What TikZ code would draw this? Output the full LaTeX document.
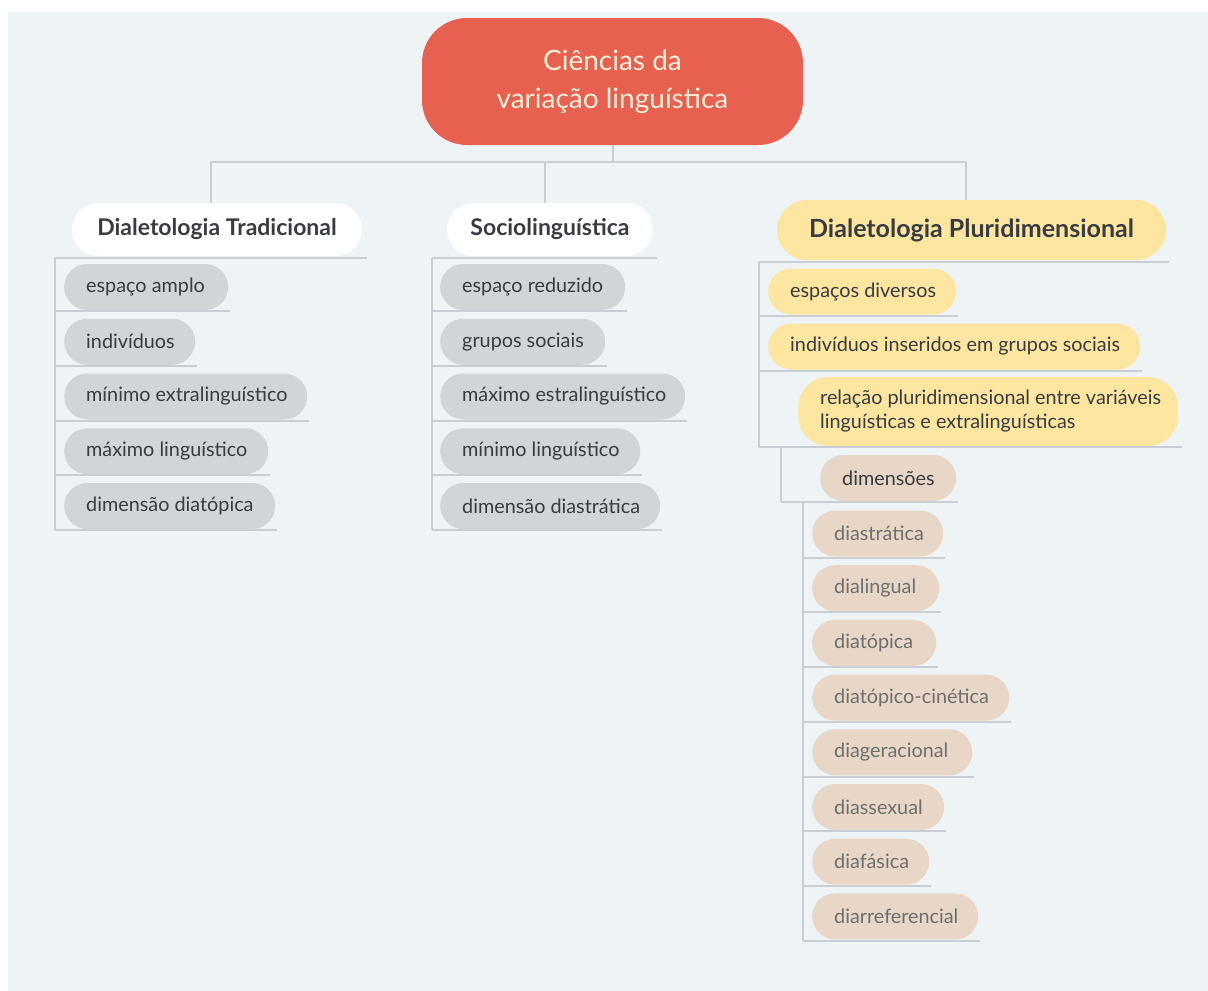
\documentclass[tikz,border=0pt]{standalone}
\usepackage{fontspec}
\setmainfont{Lato}
\definecolor{bgc}{HTML}{EEF3F6}
\definecolor{rootc}{HTML}{E8604F}
\definecolor{roottxt}{HTML}{FFF0D8}
\definecolor{yelc}{HTML}{FDE6A0}
\definecolor{greyc}{HTML}{D1D5D8}
\definecolor{tanc}{HTML}{E8D7C6}
\definecolor{lnc}{HTML}{C8CED3}
\definecolor{txtc}{HTML}{383C42}
\definecolor{dimtxt}{HTML}{6E6E6E}
\tikzset{
  ln/.style={draw=lnc, line width=2pt},
  pillbase/.style={rounded corners=23pt, inner xsep=22pt, inner ysep=0pt, minimum height=46pt, anchor=west, font=\fontsize{19.8}{23}\selectfont},
  greyp/.style={pillbase, fill=greyc, text=txtc},
  yelp/.style={pillbase, fill=yelc, text=txtc},
  tanp/.style={pillbase, fill=tanc, text=dimtxt},
  dimp/.style={pillbase, fill=tanc, text=txtc},
  lone/.style={inner sep=0pt, text=txtc, font=\fontsize{23}{27}\selectfont\bfseries},
  rootn/.style={fill=rootc, text=roottxt, rounded corners=45pt, align=center, inner sep=0pt, font=\fontsize{28}{38}\selectfont},
}
\newcommand\leaf[7]{%
  \pgfmathsetmacro\leaftw{#5-#3-44}%
  \node[#2] (#1) at (#3,#4) {\makebox[\leaftw pt][l]{#7}};
  \draw[ln] ([xshift=2pt,yshift=-1pt]#1.south east) -- ([yshift=-1pt]#1.south west -| #6);
}
\begin{document}
\begin{tikzpicture}[x=1pt,y=-1pt]
\useasboundingbox (0,0) rectangle (1208,991);
\fill[bgc] (8,12) rectangle (1208,991);

% root
\node[rootn, minimum width=381pt, minimum height=127pt] (root) at (612.5,81.5) {Ciências da\\variação linguística};

% level 1
\node[lone, fill=white, minimum width=290pt, minimum height=53pt, rounded corners=26pt] (dt) at (217,229.5) {Dialetologia Tradicional};
\node[lone, fill=white, minimum width=206pt, minimum height=53pt, rounded corners=26pt] (soc) at (550,229.5) {Sociolinguística};
\node[lone, fill=yelc, minimum width=389pt, minimum height=60pt, rounded corners=30pt, font=\fontsize{25}{29}\selectfont\bfseries] (dp) at (971.5,230) {Dialetologia Pluridimensional};

\draw[ln] (root.south) -- ++(0,17) coordinate (hub);
\draw[ln] ([xshift=-6pt]dt.north) |- (hub) -| ([xshift=-6pt]dp.north);
\draw[ln] ([xshift=-5pt]soc.north) -- ([xshift=-5pt]soc.north |- hub);

\draw[ln] ([xshift=5pt,yshift=-2pt]dt.south east) -- ([xshift=-17pt,yshift=-2pt]dt.south west) coordinate (dtv);
\draw[ln] ([xshift=4pt,yshift=-2pt]soc.south east) -- ([xshift=-15pt,yshift=-2pt]soc.south west) coordinate (socv);
\draw[ln] ([xshift=3pt,yshift=-2pt]dp.south east) -- ([xshift=-18pt,yshift=-2pt]dp.south west) coordinate (dpv);

% Dialetologia Tradicional
\leaf{dta}{greyp}{64}{287}{228}{dtv}{espaço amplo}
\leaf{dtb}{greyp}{64}{341.75}{195}{dtv}{indivíduos}
\leaf{dtc}{greyp}{64}{396.5}{307}{dtv}{mínimo extralinguístico}
\leaf{dtd}{greyp}{64}{451.25}{268}{dtv}{máximo linguístico}
\leaf{dte}{greyp}{64}{506}{275}{dtv}{dimensão diatópica}
\draw[ln] (dtv) -- ([yshift=-1pt]dte.south west -| dtv);

% Sociolinguistica
\leaf{sa}{greyp}{440}{287}{625}{socv}{espaço reduzido}
\leaf{sb}{greyp}{440}{341.75}{605}{socv}{grupos sociais}
\leaf{sc}{greyp}{440}{396.5}{685}{socv}{máximo estralinguístico}
\leaf{sd}{greyp}{440}{451.25}{640}{socv}{mínimo linguístico}
\leaf{se}{greyp}{440}{506}{660}{socv}{dimensão diastrática}
\draw[ln] (socv) -- ([yshift=-1pt]se.south west -| socv);

% Dialetologia Pluridimensional
\leaf{pa}{yelp}{768}{291.5}{956}{dpv}{espaços diversos}
\leaf{pb}{yelp}{768}{346.5}{1140}{dpv}{indivíduos inseridos em grupos sociais}
\node[yelp, minimum height=69pt, rounded corners=30pt, font=\fontsize{19.8}{24}\selectfont] (pc) at (798,411.5) {\makebox[336pt][l]{\begin{tabular}{@{}l@{}}relação pluridimensional entre variáveis\\linguísticas e extralinguísticas\end{tabular}}};
\draw[ln] ([xshift=4pt,yshift=-1pt]pc.south east) -- ([yshift=-1pt]pc.south west -| dpv);
\draw[ln] (dpv) -- ([yshift=-1pt]pc.south west -| dpv);
\coordinate (relv) at ([xshift=-17pt,yshift=-1pt]pc.south west);

\leaf{dim}{dimp}{820}{478}{956}{relv}{dimensões}
\draw[ln] (relv) -- ([yshift=-1pt]dim.south west -| relv);
\coordinate (dimv) at ([xshift=-17pt,yshift=-1pt]dim.south west);

\leaf{da}{tanp}{812}{533.5}{943}{dimv}{diastrática}
\leaf{db}{tanp}{812}{588.2}{939}{dimv}{dialingual}
\leaf{dc}{tanp}{812}{642.9}{936}{dimv}{diatópica}
\leaf{dd}{tanp}{812}{697.6}{1009}{dimv}{diatópico-cinética}
\leaf{de}{tanp}{812}{752.3}{972}{dimv}{diageracional}
\leaf{df}{tanp}{812}{807.0}{944}{dimv}{diassexual}
\leaf{dg}{tanp}{812}{861.7}{929}{dimv}{diafásica}
\leaf{dh}{tanp}{812}{916.4}{978}{dimv}{diarreferencial}
\draw[ln] (dimv) -- ([yshift=-1pt]dh.south west -| dimv);
\end{tikzpicture}
\end{document}
